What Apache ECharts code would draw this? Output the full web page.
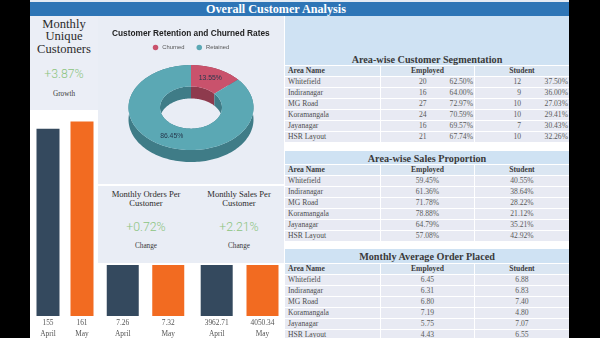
<!DOCTYPE html>
<html>
<head>
<meta charset="utf-8">
<script src="https://cdn.jsdelivr.net/npm/echarts@6/dist/echarts.min.js"></script>
<style>
  html, body { margin: 0; padding: 0; width: 600px; height: 338px; overflow: hidden; background: #000; }
  .abs { position: absolute; }
  #sheet { left: 30px; top: 0; width: 539px; height: 338px; background: #fff; }
  #topline { left: 30px; top: 0; width: 539px; height: 2px; background: #e4ebf4; }
  #banner { left: 30px; top: 2px; width: 539px; height: 14px; background: #2e75b6; z-index: 3; }
  #banner span { position: absolute; left: 176px; top: 0; line-height: 14px; font: bold 12.2px 'Liberation Serif', serif; color: #fff; white-space: nowrap; }
  #bars { left: 0; top: 0; width: 600px; height: 338px; z-index: 1; }
  #midMask { left: 98px; top: 16px; width: 187px; height: 249px; background: #fff; z-index: 2; }
  .panel { background: #e9edf5; z-index: 3; }
  #kpiLeft { left: 30px; top: 16px; width: 68px; height: 94px; background: #ebeef6; }
  #donutPanel { left: 98px; top: 16px; width: 186px; height: 168px; }
  #donut { left: 0; top: 0; width: 186px; height: 168px; }
  #changePanel { left: 98px; top: 186px; width: 186px; height: 77px; }
  .serif { font-family: 'Liberation Serif', 'DejaVu Serif', serif; }
  .kpiTitle { color: #2b2b2b; text-align: center; }
  .kpiValue { font-family: Roboto, 'Open Sans', sans-serif; font-weight: 300; color: #8cc47f; text-align: center; font-size: 12.3px; line-height: 14px; }
  .kpiNote { color: #3a3a3a; text-align: center; font-size: 7.2px; line-height: 10px; }
  #right { left: 285px; top: 16px; width: 284px; height: 322px; background: #fff; z-index: 3; }
  .band { position: absolute; left: 0; width: 284px; background: #cfe2f3; }
  .tTitle { position: absolute; left: 0; width: 284px; text-align: center; font: bold 10.2px 'Liberation Serif', serif; color: #3a3a3a; white-space: nowrap; }
  .tgrid { position: absolute; left: 0; width: 284px; display: grid; grid-template-columns: 95px 93px 94px; grid-auto-rows: 10px; gap: 1px; background: #fff; }
  .tgrid div { background: #e8eaf3; font: 7.6px/10px 'Liberation Serif', serif; color: #5a5a5a; white-space: nowrap; overflow: hidden; }
  .tgrid div.h { background: #dbe6f2; font-weight: bold; color: #3c3c3c; text-align: center; }
  .tgrid div.h.first, .tgrid div.name { text-align: left; padding-left: 3px; }
  .tgrid div.name { color: #4e4e4e; }
  .tgrid div.c { text-align: center; }
  .tgrid div.pair { display: flex; }
  .tgrid div.pair span { flex: 1; text-align: right; padding-right: 1px; }
</style>
</head>
<body>
<div id="sheet" class="abs"></div>
<div id="topline" class="abs"></div>
<div id="bars" class="abs"></div>
<div id="midMask" class="abs"></div>
<div id="banner" class="abs"><span>Overall Customer Analysis</span></div>

<div id="kpiLeft" class="abs panel">
  <div class="abs serif kpiTitle" style="left:0;top:2px;width:68px;font-size:12.6px;line-height:12.4px;">Monthly<br>Unique<br>Customers</div>
  <div class="abs kpiValue" id="growthUnique" style="left:0;top:51px;width:68px;"></div>
  <div class="abs serif kpiNote" style="left:0;top:73px;width:68px;">Growth</div>
</div>

<div id="donutPanel" class="abs panel"><div id="donut" class="abs"></div></div>

<div id="changePanel" class="abs panel">
  <div class="abs serif kpiTitle" style="left:0;top:3.5px;width:96px;font-size:8.6px;line-height:9px;">Monthly Orders Per<br>Customer</div>
  <div class="abs kpiValue" id="changeOrders" style="left:0;top:33.5px;width:96px;"></div>
  <div class="abs serif kpiNote" style="left:0;top:55.3px;width:96px;">Change</div>
  <div class="abs serif kpiTitle" style="left:94px;top:3.5px;width:94px;font-size:8.6px;line-height:9px;">Monthly Sales Per<br>Customer</div>
  <div class="abs kpiValue" id="changeSales" style="left:94px;top:33.5px;width:94px;"></div>
  <div class="abs serif kpiNote" style="left:94px;top:55.3px;width:94px;">Change</div>
</div>

<div id="right" class="abs"></div>

<script>
// ---- data ----
const months = ['April', 'May'];
const uniqueCustomers = [155, 161];
const ordersPerCustomer = [7.26, 7.32];
const salesPerCustomer = [3962.71, 4050.34];
const uniqueGrowth = '+3.87%';
const ordersChange = '+0.72%';
const salesChange = '+2.21%';

const shareNames = ['Churned', 'Retained'];
const shareValues = [13.55, 86.45];

const areas = ['Whitefield', 'Indiranagar', 'MG Road', 'Koramangala', 'Jayanagar', 'HSR Layout'];
const segEmployedCount = [20, 16, 27, 24, 16, 21];
const segEmployedPct = ['62.50%', '64.00%', '72.97%', '70.59%', '69.57%', '67.74%'];
const segStudentCount = [12, 9, 10, 10, 7, 10];
const segStudentPct = ['37.50%', '36.00%', '27.03%', '29.41%', '30.43%', '32.26%'];

const salesEmployed = ['59.45%', '61.36%', '71.78%', '78.88%', '64.79%', '57.08%'];
const salesStudent = ['40.55%', '38.64%', '28.22%', '21.12%', '35.21%', '42.92%'];

const orderEmployed = ['6.45', '6.31', '6.80', '7.19', '5.75', '4.43'];
const orderStudent = ['6.88', '6.83', '7.40', '4.80', '7.07', '6.55'];

// ---- KPI texts ----
document.getElementById('growthUnique').textContent = uniqueGrowth;
document.getElementById('changeOrders').textContent = ordersChange;
document.getElementById('changeSales').textContent = salesChange;

// ---- month bar charts ----
const SERIF = "'Liberation Serif', 'DejaVu Serif', serif";
const DARK = '#34495e', ORANGE = '#f26b21';

function monthAxis(gridIndex, values) {
  const txt = { fontFamily: SERIF, fontSize: 7.4, color: '#555', lineHeight: 11 };
  return {
    type: 'category', gridIndex, data: months,
    axisLine: { show: false }, axisTick: { show: false },
    axisLabel: {
      margin: 2, interval: 0,
      formatter: (m, i) => '{v|' + values[i] + '}\n{m|' + m + '}',
      rich: { v: txt, m: txt }
    }
  };
}
function monthBars(idx, values, width) {
  return {
    type: 'bar', xAxisIndex: idx, yAxisIndex: idx, data: values, barWidth: width,
    itemStyle: { color: p => (p.dataIndex === 0 ? DARK : ORANGE) }
  };
}
const bars = echarts.init(document.getElementById('bars'), null, { renderer: 'canvas' });
bars.setOption({
  animation: false,
  grid: [
    { left: 31, width: 68, top: 110.5, bottom: 21.5 },
    { left: 100, width: 91, top: 110.5, bottom: 21.5 },
    { left: 193.8, width: 91.6, top: 110.5, bottom: 21.5 }
  ],
  xAxis: [monthAxis(0, uniqueCustomers), monthAxis(1, ordersPerCustomer), monthAxis(2, salesPerCustomer)],
  yAxis: [
    { gridIndex: 0, min: 0, max: 170, show: false },
    { gridIndex: 1, min: 0, show: false },
    { gridIndex: 2, min: 0, show: false }
  ],
  series: [monthBars(0, uniqueCustomers, 23), monthBars(1, ordersPerCustomer, 32), monthBars(2, salesPerCustomer, 32)]
});

// ---- tilted 3D donut ----
const TOP_COLORS = ['#c9526c', '#5ba8b4'];
const WALL_COLORS = ['#8e3a4d', '#3f7c87'];
const RX_OUT = 62.5, RX_IN = 31, TILT = 0.68, DEPTH = 12;
const shareTotal = shareValues.reduce((s, v) => s + v, 0);

function ellipseArc(cx, cy, rx, a0, a1, dy) {
  const pts = [];
  const n = Math.max(2, Math.ceil((a1 - a0) / (Math.PI / 90)));
  for (let i = 0; i <= n; i++) {
    const a = a0 + (a1 - a0) * i / n;
    pts.push([cx + rx * Math.sin(a), cy - rx * TILT * Math.cos(a) + dy]);
  }
  return pts;
}
function sliceRenderer(k) {
  return function (params, api) {
    let start = 0;
    for (let i = 0; i < k; i++) start += shareValues[i];
    const v = api.value(0);
    const a0 = start / shareTotal * 2 * Math.PI;
    const a1 = (start + v) / shareTotal * 2 * Math.PI;
    const cx = api.getWidth() / 2, cy = api.getHeight() * 0.545;
    const face = ellipseArc(cx, cy, RX_OUT, a0, a1, 0).concat(ellipseArc(cx, cy, RX_IN, a0, a1, 0).reverse());
    const outerWall = ellipseArc(cx, cy, RX_OUT, a0, a1, 0).concat(ellipseArc(cx, cy, RX_OUT, a0, a1, DEPTH).reverse());
    const innerWall = ellipseArc(cx, cy, RX_IN, a0, a1, 0).concat(ellipseArc(cx, cy, RX_IN, a0, a1, DEPTH).reverse());
    const mid = (a0 + a1) / 2, rm = (RX_OUT + RX_IN) / 2;
    return {
      type: 'group',
      children: [
        { type: 'polygon', z2: 1, shape: { points: outerWall }, style: { fill: WALL_COLORS[k] } },
        { type: 'polygon', z2: 1, shape: { points: innerWall }, style: { fill: WALL_COLORS[k] } },
        { type: 'polygon', z2: 5, shape: { points: face }, style: { fill: TOP_COLORS[k] } },
        {
          type: 'text', z2: 10,
          x: cx + rm * Math.sin(mid), y: cy - rm * TILT * Math.cos(mid),
          style: {
            text: v.toFixed(2) + '%', fill: '#26384d', fontSize: 6.8,
            fontFamily: "'Liberation Sans', Arial, sans-serif", align: 'center', verticalAlign: 'middle'
          }
        }
      ]
    };
  };
}
const donut = echarts.init(document.getElementById('donut'), null, { renderer: 'canvas' });
donut.setOption({
  animation: false,
  title: {
    text: 'Customer Retention and Churned Rates', left: 9, top: 9,
    textStyle: { fontFamily: "'Liberation Sans', Arial, sans-serif", fontSize: 8.3, fontWeight: 'bold', color: '#222' }
  },
  legend: {
    data: shareNames, top: 23.5, left: 'center', icon: 'circle', itemWidth: 5.5, itemHeight: 5.5, itemGap: 12,
    textStyle: { fontFamily: "'Liberation Sans', Arial, sans-serif", fontSize: 5.8, color: '#555', padding: [0, 0, 0, -1] }
  },
  series: shareNames.map((name, k) => ({
    type: 'custom', name, coordinateSystem: 'none',
    itemStyle: { color: TOP_COLORS[k] },
    data: [shareValues[k]],
    renderItem: sliceRenderer(k)
  }))
});

// ---- tables ----
const right = document.getElementById('right');
function addDiv(parent, cls, text, style) {
  const d = document.createElement('div');
  if (cls) d.className = cls;
  if (text !== undefined) d.textContent = text;
  if (style) d.setAttribute('style', style);
  parent.appendChild(d);
  return d;
}
function addTable(bandTop, bandHeight, titleTop, title, gridTop, rowCells) {
  addDiv(right, 'band', undefined, 'top:' + bandTop + 'px;height:' + bandHeight + 'px;');
  addDiv(right, 'tTitle', title, 'top:' + titleTop + 'px;line-height:13px;');
  const g = addDiv(right, 'tgrid', undefined, 'top:' + gridTop + 'px;');
  addDiv(g, 'h first', 'Area Name');
  addDiv(g, 'h', 'Employed');
  addDiv(g, 'h', 'Student');
  areas.forEach((a, i) => {
    addDiv(g, 'name', a);
    rowCells(g, i);
  });
}
// a cell holding a count and its share, both right-aligned in their halves
function pairCell(g, count, share) {
  const d = addDiv(g, 'pair');
  [count, share].forEach(t => {
    const s = document.createElement('span');
    s.textContent = t;
    d.appendChild(s);
  });
}
addTable(0, 49, 37, 'Area-wise Customer Segmentation', 50, (g, i) => {
  pairCell(g, segEmployedCount[i], segEmployedPct[i]);
  pairCell(g, segStudentCount[i], segStudentPct[i]);
});
addTable(135, 13, 135.5, 'Area-wise Sales Proportion', 149, (g, i) => {
  addDiv(g, 'c', salesEmployed[i]);
  addDiv(g, 'c', salesStudent[i]);
});
addTable(233, 14, 234, 'Monthly Average Order Placed', 248, (g, i) => {
  addDiv(g, 'c', orderEmployed[i]);
  addDiv(g, 'c', orderStudent[i]);
});
</script>
</body>
</html>
